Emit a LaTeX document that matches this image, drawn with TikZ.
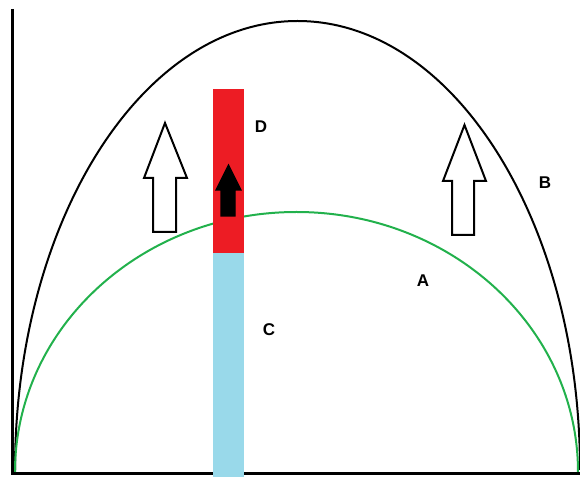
\documentclass[tikz,border=0pt]{standalone}
\usepackage{fontspec}
\setsansfont{Liberation Sans}
\usetikzlibrary{positioning}
\definecolor{paintred}{RGB}{237,28,36}
\definecolor{paintblue}{RGB}{153,217,234}
\definecolor{paintgreen}{RGB}{34,177,76}
\begin{document}
\begin{tikzpicture}[
  x=0.5pt,y=0.5pt,
  axisln/.style={draw=black,line width=1.6pt},
  outer/.style={draw=black,line width=1pt},
  inner/.style={draw=paintgreen,line width=1pt},
  hollowarr/.style={draw=black,fill=white,line width=1pt,line join=miter},
  solidarr/.style={draw=black,fill=black,line width=0.6pt},
  lbl/.style={font=\sffamily\bfseries\fontsize{8.5}{10}\selectfont,inner sep=0pt},
]
\useasboundingbox (0,0) rectangle (580,477);
% axes
\coordinate (origin) at (12.5,3.5);
\draw[axisln] (12.5,468) -- (origin) -- (580,3.5);
% the two curves
\draw[outer] (15,7) arc[start angle=180,end angle=0,x radius=282.5,y radius=449];
\draw[inner] (15,5) arc[start angle=180,end angle=0,x radius=281.5,y radius=260];
% column
\fill[paintblue] (213,0) rectangle (244,224);
\fill[paintred] (213,224) rectangle (244,388);
% arrows
\draw[hollowarr] (153,245) -- (153,299) -- (144,299) -- (165,354) -- (187,299) -- (176,299) -- (176,245) -- cycle;
\draw[hollowarr] (452,242) -- (452,296) -- (443,296) -- (464.5,352) -- (486,296) -- (474,296) -- (474,242) -- cycle;
\draw[solidarr] (221,261) -- (221,287) -- (216,287) -- (228.5,312) -- (241,287) -- (235,287) -- (235,261) -- cycle;
% labels
\node[lbl] (d) at (261,350) {D};
\node[lbl] (b) at (545,294) {B};
\node[lbl] (a) at (423,196) {A};
\node[lbl] (c) at (269,147) {C};
\end{tikzpicture}
\end{document}
